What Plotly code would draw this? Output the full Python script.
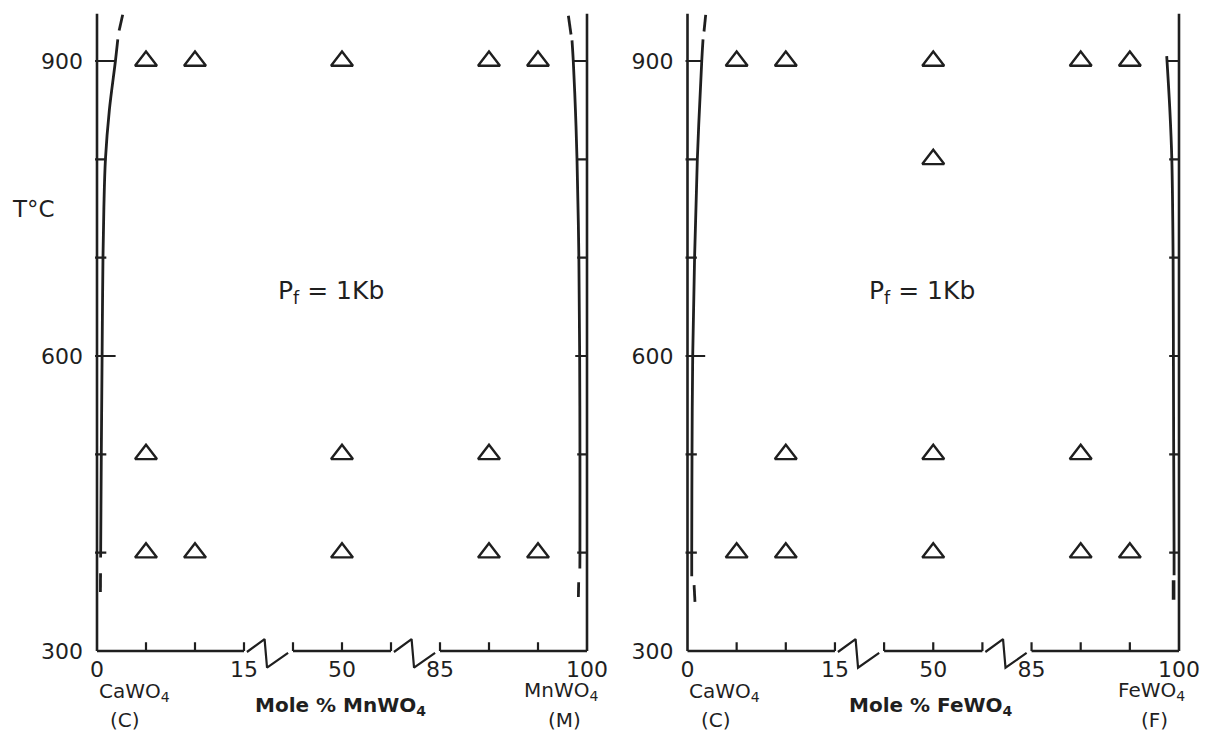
import plotly.graph_objects as go

# ---------------- data ----------------
# Experimental runs (composition in mol %, temperature in °C)
mn_run_x = [5, 10, 50, 90, 95, 5, 50, 90, 5, 10, 50, 90, 95]
mn_run_T = [900, 900, 900, 900, 900, 500, 500, 500, 400, 400, 400, 400, 400]

fe_run_x = [5, 10, 50, 90, 95, 50, 10, 50, 90, 5, 10, 50, 90, 95]
fe_run_T = [900, 900, 900, 900, 900, 800, 500, 500, 500, 400, 400, 400, 400, 400]

# Solvus limbs, CaWO4-MnWO4 join
mn_ca_T = [395, 500, 600, 650, 700, 750, 800, 850, 900, 922]
mn_ca_x = [0.37, 0.44, 0.52, 0.56, 0.61, 0.7, 0.86, 1.26, 1.88, 2.12]
mn_ca_top_T = [931, 947]
mn_ca_top_x = [2.26, 2.62]
mn_ca_bot_T = [360, 379]
mn_ca_bot_x = [0.35, 0.36]

mn_mn_T = [384, 400, 500, 600, 700, 800, 850, 900, 921]
mn_mn_x = [99.27, 99.28, 99.28, 99.25, 99.17, 98.98, 98.82, 98.6, 98.47]
mn_mn_top_T = [927, 946]
mn_mn_top_x = [98.37, 98.1]
mn_mn_bot_T = [355, 370]
mn_mn_bot_x = [99.12, 99.15]

# Solvus limbs, CaWO4-FeWO4 join
fe_ca_T = [376, 400, 500, 600, 700, 800, 900, 922]
fe_ca_x = [0.43, 0.43, 0.46, 0.53, 0.72, 1.0, 1.45, 1.58]
fe_ca_top_T = [930, 947]
fe_ca_top_x = [1.68, 1.85]
fe_ca_bot_T = [350, 367]
fe_ca_bot_x = [0.76, 0.67]

fe_fe_T = [377, 400, 500, 600, 700, 800, 850, 905]
fe_fe_x = [99.5, 99.5, 99.46, 99.43, 99.4, 99.27, 99.07, 98.75]
fe_fe_bot_T = [352, 372]
fe_fe_bot_x = [99.45, 99.45]

# Axis annotation
y_tick_vals = [300, 600, 900]
y_minor_ticks = [400, 500, 700, 800]
x_tick_comp = [0, 15, 50, 85, 100]
x_minor_comp = [5, 10, 15, 45, 50, 55, 85, 90, 95]

# ---------------- style ----------------
INK = "#1f1f1f"
FONT = "DejaVu Sans"
LW = 2.6
T0, TTOP = 300, 948
W, H = 1213, 741


def xpos(c):
    """Map a composition onto the broken x axis (0-15 | 45-55 | 85-100)."""
    if c <= 15:
        return c
    if c <= 55:
        return c - 25
    return c - 50


fig = go.Figure()


def line(xs, ys, ax, width=LW, shape="linear"):
    fig.add_trace(go.Scatter(
        x=xs, y=ys, mode="lines", xaxis=ax[0], yaxis=ax[1],
        line=dict(color=INK, width=width, shape=shape, smoothing=1.0),
        hoverinfo="skip", showlegend=False))


def panel(ax, runs_x, runs_T, limbs, left_long, right_long):
    # frame: two verticals and the broken base line
    line([xpos(0), xpos(0)], [T0, TTOP], ax)
    line([xpos(100), xpos(100)], [T0, TTOP], ax)
    line([xpos(0), xpos(15)], [T0, T0], ax)
    line([xpos(45), xpos(55)], [T0, T0], ax)
    line([xpos(85), xpos(100)], [T0, T0], ax)
    # zig-zag break symbols
    for b in (xpos(15), xpos(55)):
        line([b + 0.3, b + 2.1, b + 2.35, b + 4.5],
             [T0 - 1, T0 + 12, T0 - 17, T0 - 2], ax, width=2.2)
    # ticks along the base
    for c in x_minor_comp:
        line([xpos(c), xpos(c)], [T0, T0 + 9], ax, width=2.2)
    # ticks on the temperature axes
    for t in y_minor_ticks:
        line([-0.2, 0.95], [t, t], ax, width=2.2)
        line([50, 49.0], [t, t], ax, width=2.2)
    for t, ln in left_long:
        line([-0.2, ln], [t, t], ax, width=2.2)
    for t, ln in right_long:
        line([50, ln], [t, t], ax, width=2.2)
    # solvus limbs
    for xs, ts, w in limbs:
        line([xpos(v) for v in xs], ts, ax, width=w, shape="spline")
    # runs
    fig.add_trace(go.Scatter(
        x=[xpos(v) for v in runs_x], y=runs_T, mode="markers",
        xaxis=ax[0], yaxis=ax[1],
        marker=dict(symbol="triangle-up-open", size=19, color=INK,
                    line=dict(width=2.4, color=INK)),
        hoverinfo="skip", showlegend=False))


panel(("x", "y"), mn_run_x, mn_run_T,
      [(mn_ca_x, mn_ca_T, 2.8), (mn_ca_top_x, mn_ca_top_T, 2.8),
       (mn_ca_bot_x, mn_ca_bot_T, 2.8),
       (mn_mn_x, mn_mn_T, 2.8), (mn_mn_top_x, mn_mn_top_T, 2.8),
       (mn_mn_bot_x, mn_mn_bot_T, 2.8)],
      left_long=[(600, 1.9), (900, 1.88)],
      right_long=[(900, 48.6), (600, 48.8)])

panel(("x2", "y2"), fe_run_x, fe_run_T,
      [(fe_ca_x, fe_ca_T, 2.8), (fe_ca_top_x, fe_ca_top_T, 2.8),
       (fe_ca_bot_x, fe_ca_bot_T, 2.8),
       (fe_fe_x, fe_fe_T, 2.8), (fe_fe_bot_x, fe_fe_bot_T, 3.6)],
      left_long=[(600, 1.8), (900, 1.45)],
      right_long=[(900, 48.75), (600, 49.0)])

# ---------------- axes ----------------
YR = [275, 958]
ydom = [0.08828, 0.99465]
xbase = (H - 651) / H

xcommon = dict(range=[-2, 52], anchor="free", position=xbase,
               showgrid=False, zeroline=False, showline=False, ticks="",
               tickvals=[xpos(c) for c in x_tick_comp],
               ticktext=[str(c) for c in x_tick_comp],
               ticklabelstandoff=3,
               tickfont=dict(family=FONT, size=22, color=INK))
ycommon = dict(range=YR, domain=ydom, anchor="free",
               showgrid=False, zeroline=False, showline=False, ticks="",
               tickvals=y_tick_vals, ticktext=[str(v) for v in y_tick_vals],
               ticklabelstandoff=14,
               tickfont=dict(family=FONT, size=22, color=INK))

fig.update_layout(
    width=W, height=H,
    margin=dict(l=0, r=0, t=0, b=0),
    paper_bgcolor="white", plot_bgcolor="rgba(0,0,0,0)",
    font=dict(family=FONT, color=INK),
    xaxis=dict(domain=[77.4 / W, 606.6 / W], **xcommon),
    xaxis2=dict(domain=[667.84 / W, 1198.66 / W], **xcommon),
    yaxis=dict(position=97 / W, **ycommon),
    yaxis2=dict(position=687.5 / W, **ycommon),
)


# ---------------- labels ----------------
def note_px(px, py, text, size=20, bold=False):
    """Text placed by pixel position on the page (paper coordinates)."""
    fig.add_annotation(
        xref="paper", yref="paper", x=px / W, y=(H - py) / H, text=text,
        showarrow=False, xanchor="center", yanchor="middle",
        font=dict(family=FONT, size=size, color=INK,
                  weight="bold" if bold else "normal"))


def note(ax, x, y, text, size=25):
    fig.add_annotation(
        xref=ax[0], yref=ax[1], x=x, y=y, text=text, showarrow=False,
        xanchor="center", yanchor="middle",
        font=dict(family=FONT, size=size, color=INK))


note_px(33, 209, "T°C", size=23)
for ax, x0, name, tag in ((("x", "y"), 97, "MnWO<sub>4</sub>", "(M)"),
                          (("x2", "y2"), 687.5, "FeWO<sub>4</sub>", "(F)")):
    note(ax, 23.9, 665, "P<sub>f</sub> = 1Kb", size=25)
    note_px(x0 + 37, 692, "CaWO<sub>4</sub>", size=20)
    note_px(x0 + 28, 720, "(C)", size=20)
    note_px(x0 + 243, 706, "Mole % " + name, size=20, bold=True)
    note_px(x0 + 464, 691, name, size=20)
    note_px(x0 + 467, 720, tag, size=20)

fig.write_html("out.html")
